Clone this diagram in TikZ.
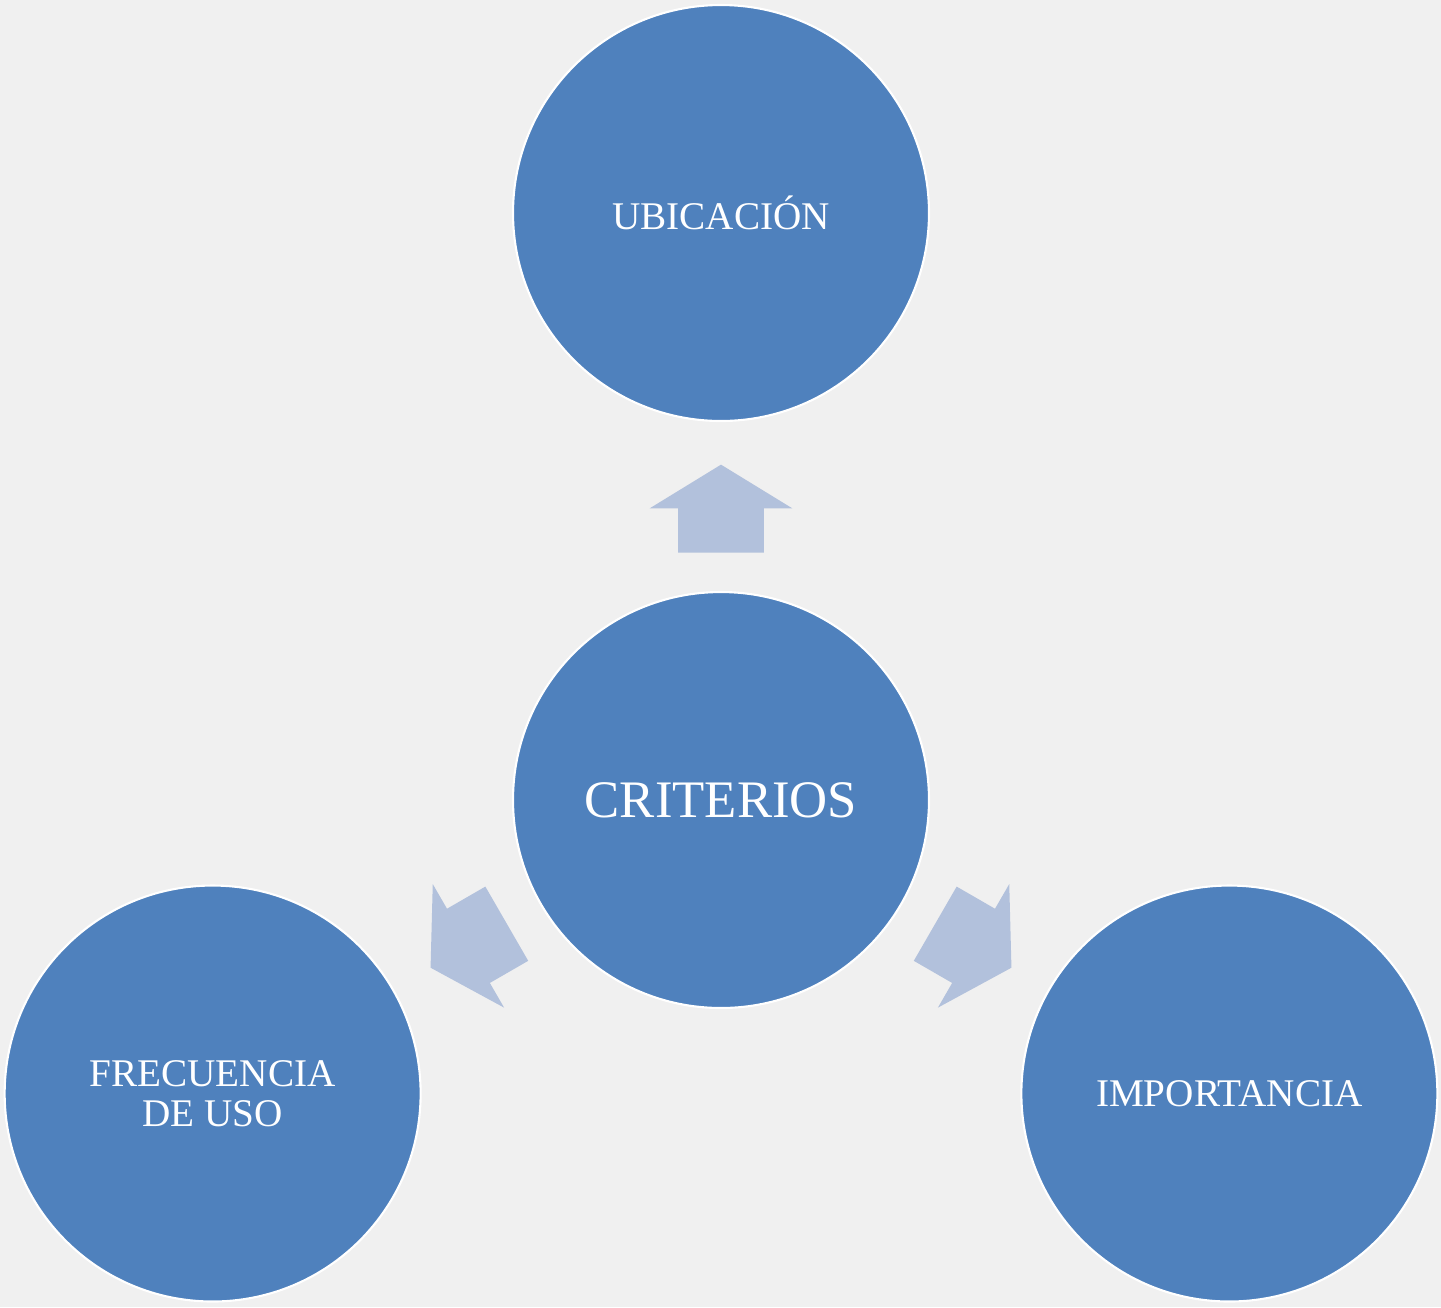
\documentclass[tikz,border=0pt]{standalone}
\usepackage{fontspec}
\setmainfont{Liberation Serif}
\usetikzlibrary{calc, shapes.arrows}
\definecolor{crit_blue}{RGB}{79, 129, 189}
\definecolor{crit_arrow}{RGB}{178, 193, 220}
\definecolor{paper}{RGB}{240, 240, 240}

\begin{document}
\begin{tikzpicture}[
      bubble/.style={circle, draw=white, line width=1.2pt, fill=crit_blue, text=white,
        minimum size=8.32cm, inner sep=0pt, align=center,
        font=\fontsize{22.3}{22.7}\selectfont},
      blockarrow/.style={single arrow, fill=crit_arrow, draw=none, inner xsep=0pt,
        inner ysep=0.85cm, minimum height=1.76cm, single arrow head extend=0.57cm,
        single arrow tip angle=117, anchor=tail}]
    \fill[paper] (0,0) rectangle (28.82,-26.14);
    \useasboundingbox (0,0) rectangle (28.82,-26.14);
    \node[bubble, font=\fontsize{30}{32}\selectfont] (crit) at (14.42,-16) {CRITERIOS};
    \node[bubble] (ubic) at ($(crit)+(90:11.74)$)  {UBICACI\'ON};
    \node[bubble] (frec) at ($(crit)+(210:11.74)$) {FRECUENCIA\\DE USO};
    \node[bubble] (impo) at ($(crit)+(330:11.74)$) {IMPORTANCIA};
    \node[blockarrow, rotate=90]  (toubic) at ($(crit)!0.4208!(ubic)$) {};
    \node[blockarrow, rotate=210] (tofrec) at ($(crit)!0.4208!(frec)$) {};
    \node[blockarrow, rotate=330] (toimpo) at ($(crit)!0.4208!(impo)$) {};
  \end{tikzpicture}
\end{document}
